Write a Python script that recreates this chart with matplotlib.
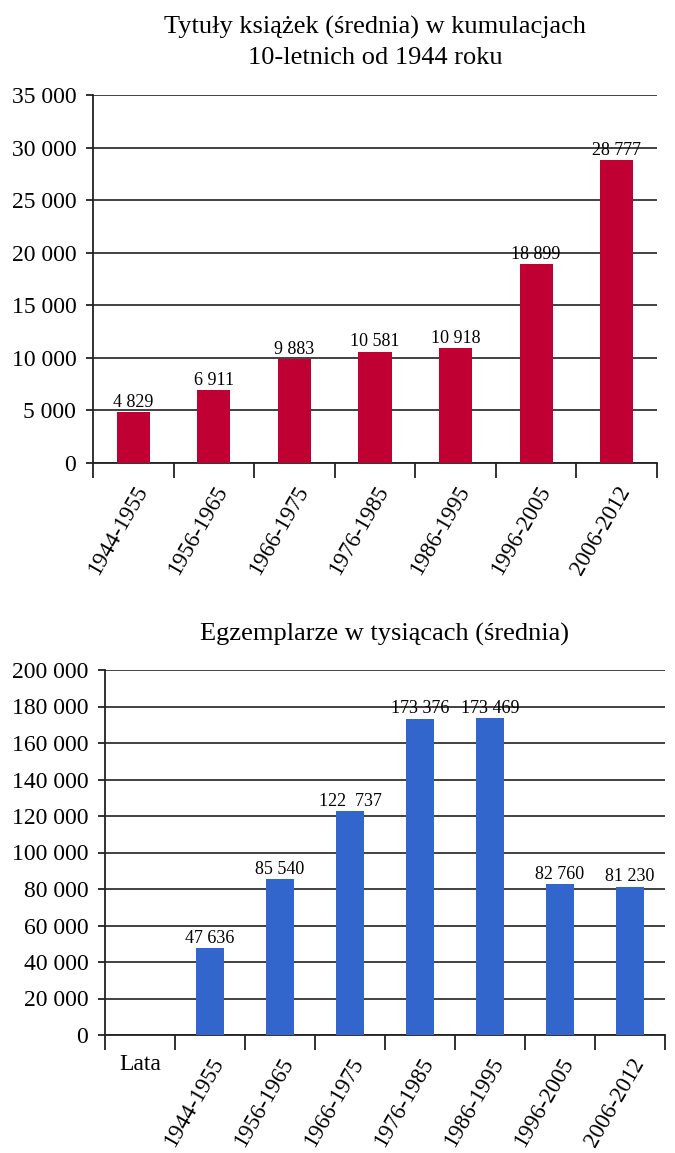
import matplotlib
matplotlib.use("Agg")
import matplotlib.pyplot as plt
import numpy as np

plt.rcParams['font.family'] = ['Liberation Serif', 'DejaVu Serif']

# Top chart data
top_title = "Tytuły książek (średnia) w kumulacjach\n10-letnich od 1944 roku"
top_cats = ["1944-1955", "1956-1965", "1966-1975", "1976-1985", "1986-1995", "1996-2005", "2006-2012"]
top_vals = [4829, 6911, 9883, 10581, 10918, 18899, 28777]
top_labels = ["4 829", "6 911", "9 883", "10 581", "10 918", "18 899", "28 777"]
top_yticks = [0, 5000, 10000, 15000, 20000, 25000, 30000, 35000]

# Bottom chart data
bot_title = "Egzemplarze w tysiącach (średnia)"
bot_cats = ["Lata", "1944-1955", "1956-1965", "1966-1975", "1976-1985", "1986-1995", "1996-2005", "2006-2012"]
bot_vals = [np.nan, 47636, 85540, 122737, 173376, 173469, 82760, 81230]
bot_labels = ["", "47 636", "85 540", "122  737", "173 376", "173 469", "82 760", "81 230"]
bot_yticks = [0, 20000, 40000, 60000, 80000, 100000, 120000, 140000, 160000, 180000, 200000]

RED = "#C00033"
BLUE = "#3366CC"

def fmt(v):
    return "{:,}".format(v).replace(",", " ")

fig = plt.figure(figsize=(6.75, 11.53), dpi=100)
ax1 = fig.add_axes([93/675, 1-463/1153, (657-93)/675, (463-95)/1153])
ax2 = fig.add_axes([105/675, 1-1035/1153, (665-105)/675, (1035-670)/1153])

def style(ax, cats, vals, labels, yticks, color, title, pad):
    x = np.arange(len(cats))
    v = np.array(vals, dtype=float)
    ax.bar(x, np.nan_to_num(v), width=0.41, color=color, zorder=3)
    for xi, vi, lab in zip(x, v, labels):
        if np.isnan(vi):
            continue
        ax.annotate(lab, (xi, vi), xytext=(0, 1), textcoords="offset points",
                    ha="center", va="bottom", fontsize=13, zorder=4)
    ax.set_xlim(-0.5, len(cats) - 0.5)
    ax.set_ylim(yticks[0], yticks[-1])
    ax.set_yticks(yticks)
    ax.set_yticklabels([fmt(t) for t in yticks], fontsize=17)
    ax.yaxis.grid(True, color="#333333", linewidth=1.3, zorder=0)
    ax.set_axisbelow(True)
    for s in ["top", "right"]:
        ax.spines[s].set_visible(False)
    for s in ["left", "bottom"]:
        ax.spines[s].set_color("#222222")
        ax.spines[s].set_linewidth(1.3)
    ax.tick_params(axis="y", length=5, width=1.3, color="#222222", pad=7)
    # category separators as tick marks
    ax.set_xticks(np.arange(len(cats) + 1) - 0.5)
    ax.set_xticklabels([])
    ax.tick_params(axis="x", which="major", length=11, width=1.3, color="#222222")
    ax.set_xticks(x, minor=True)
    ax.set_xticklabels(cats, minor=True, rotation=60, ha="right",
                       rotation_mode="anchor", fontsize=16.5)
    ax.tick_params(axis="x", which="minor", length=0, pad=14)
    ax.set_title(title, fontsize=19, pad=pad, linespacing=1.45)

style(ax1, top_cats, top_vals, top_labels, top_yticks, RED, top_title, 22.5)
style(ax2, bot_cats, bot_vals, bot_labels, bot_yticks, BLUE, bot_title, 21)

# "Lata" label is horizontal
for lbl in ax2.get_xticklabels(minor=True):
    if lbl.get_text() == "Lata":
        lbl.set_rotation(0)
        lbl.set_ha("center")
        lbl.set_va("top")
        lbl.set_fontsize(17)

fig.savefig("out.png", dpi=100)
